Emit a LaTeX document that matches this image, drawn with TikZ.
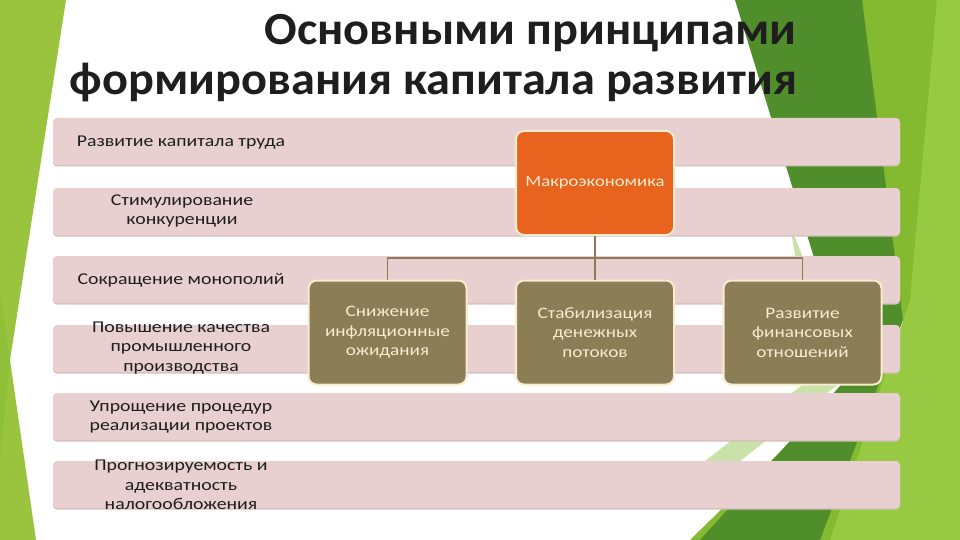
\documentclass[tikz,border=0pt]{standalone}
\usepackage{fontspec}
\setmainfont{Carlito}
\newfontfamily\bodyfont{Carlito}[FakeStretch=1.2]
\newfontfamily\titlefont{Carlito}[FakeStretch=1.05]
\definecolor{leafgreen}{HTML}{9BC43E}
\definecolor{leafdark}{HTML}{8EBF38}
\definecolor{forest}{HTML}{4F8E2B}
\definecolor{lime}{HTML}{84BA30}
\definecolor{limelight}{HTML}{97CA42}
\definecolor{palegreen}{HTML}{C9E2AA}
\definecolor{barpink}{HTML}{E8D0D0}
\definecolor{barshade}{HTML}{D8C0C0}
\definecolor{macroorange}{HTML}{E8641E}
\definecolor{olive}{HTML}{8B7D55}
\definecolor{cream}{HTML}{F7EBD0}
\definecolor{linkbrown}{HTML}{8C7B5A}
\definecolor{inktext}{HTML}{1E1E1E}
\tikzset{
  barbox/.style={fill=barpink, rounded corners=4pt, draw=none},
  bartext/.style={font=\bodyfont\fontsize{16.5}{19.3}\selectfont, text=inktext, align=center},
  macrobox/.style={fill=macroorange, draw=cream, line width=2pt, rounded corners=8pt,
    minimum width=158pt, minimum height=104pt, text=cream, align=center,
    font=\bodyfont\fontsize{15.5}{19.3}\selectfont},
  childbox/.style={fill=olive, draw=cream, line width=2pt, rounded corners=8pt,
    minimum width=158pt, minimum height=104pt, text=cream, align=center,
    font=\bodyfont\fontsize{16}{19.5}\selectfont},
  link/.style={draw=linkbrown, line width=1.5pt},
  titletext/.style={font=\titlefont\bfseries\fontsize{46}{50}\selectfont, text=inktext, inner sep=0pt}
}
\begin{document}
\begin{tikzpicture}[x=1pt,y=-1pt]
\useasboundingbox (0,0) rectangle (960,540);
\fill[white] (0,0) rectangle (960,540);
% left green
\fill[leafgreen] (0,0) -- (66,0) -- (10,360) -- (36,540) -- (0,540) -- cycle;
\fill[leafdark] (0,290) -- (10,360) -- (0,460) -- cycle;
% right greens
\fill[lime] (840,0) -- (960,0) -- (960,540) -- (690,540) -- (905,330) -- cycle;
\fill[limelight] (937,0) -- (960,0) -- (960,540) -- (830,540) -- (910,300) -- cycle;
\fill[palegreen] (790,225) -- (850,375) -- (735,465) -- (700,465) -- (815,375) -- cycle;
\fill[forest] (735,0) -- (862,0) -- (903,320) -- (820,540) -- (700,540) -- (850,375) -- cycle;
% title
\node[titletext, anchor=base east] (t1) at (797,45) {Основными принципами};
\node[titletext, anchor=base east] (t2) at (797,95) {формирования капитала развития};
% bars
\foreach \i/\y in {1/118,2/188,3/256,4/325,5/393,6/461}{
  \fill[barshade, rounded corners=4pt] (53,\y+1.5) rectangle (900,\y+48.5);
  \path[barbox] (53,\y) rectangle (900,\y+47);
}
\node[bartext] (b1) at (181,143) {Развитие капитала труда};
\node[bartext] (b2) at (182,211) {Стимулирование\\конкуренции};
\node[bartext] (b3) at (181,280) {Сокращение монополий};
\node[bartext] (b4) at (181,348) {Повышение качества\\промышленного\\производства};
\node[bartext] (b5) at (181,417) {Упрощение процедур\\реализации проектов};
\node[bartext] (b6) at (181,485) {Прогнозируемость и\\адекватность\\налогообложения};
% org chart
\node[macrobox] (macro) at (595,183) {Макроэкономика};
\node[childbox] (c1) at (387.5,332.5) {Снижение\\инфляционные\\ожидания};
\node[childbox] (c2) at (595,332.5) {Стабилизация\\денежных\\потоков};
\node[childbox] (c3) at (802.5,332.5) {Развитие\\финансовых\\отношений};
\coordinate (bus) at (595,258);
\draw[link] (macro.south) -- (bus);
\draw[link] (c1.north) |- (bus) -| (c3.north);
\draw[link] (bus) -- (c2.north);
\end{tikzpicture}
\end{document}
